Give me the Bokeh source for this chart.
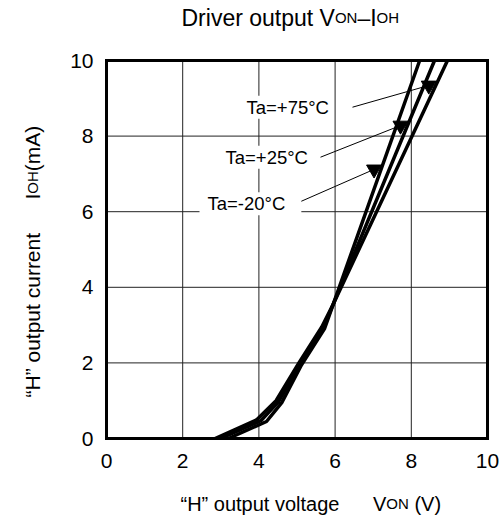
import math
import numpy as np
from bokeh.plotting import figure
from bokeh.models import Range1d, FixedTicker, Label, LinearAxis
from bokeh.embed import file_html
from bokeh.resources import INLINE

# ---------------- data ----------------
V_75 = [2.85, 3.95, 4.45, 5.05, 5.65, 5.95, 8.95]
I_75 = [0.0, 0.50, 1.00, 2.00, 2.95, 3.55, 10.0]
V_25 = [3.00, 4.05, 4.52, 5.08, 5.69, 5.95, 8.61]
I_25 = [0.0, 0.47, 0.98, 1.98, 2.93, 3.55, 10.0]
V_M20 = [3.20, 4.20, 4.60, 5.12, 5.72, 5.95, 8.22]
I_M20 = [0.0, 0.45, 0.95, 1.95, 2.90, 3.55, 10.0]
SERIES_LABELS = ["Ta=+75°C", "Ta=+25°C", "Ta=-20°C"]
ARROW_LEVELS = [9.34, 8.28, 7.12]   # current where each label's arrow meets its curve
X_TICKS = [0, 2, 4, 6, 8, 10]
Y_TICKS = [0, 2, 4, 6, 8, 10]
X_MIN, X_MAX = 0, 10
Y_MIN, Y_MAX = 0, 10

FONT = "Liberation Sans"

# ---------------- layout (canvas pixels) ----------------
CW, CH = 500, 518                   # canvas size
PL, PR, PT, PB = 106, 487, 60, 438  # chart area edges

def dx(px):   # canvas px -> data x
    return X_MIN + (px - PL) / (PR - PL) * (X_MAX - X_MIN)

def dy(py):   # canvas px -> data y
    return Y_MIN + (PB - py) / (PB - PT) * (Y_MAX - Y_MIN)

p = figure(width=CW, height=CH, min_border=0,
           x_range=Range1d(dx(0), dx(CW)), y_range=Range1d(dy(CH), dy(0)),
           output_backend="svg", toolbar_location=None, tools="")
p.background_fill_color = "white"
p.border_fill_color = "white"
p.outline_line_color = None
p.grid.visible = False

def style_axis(ax, ticks, loc, labels=True):
    ax.fixed_location = loc
    ax.bounds = (0, 10)
    ax.ticker = FixedTicker(ticks=ticks)
    ax.axis_line_width = 3
    ax.axis_line_color = "black"
    ax.axis_line_cap = "square"
    ax.major_tick_in = 0
    ax.major_tick_out = 0
    ax.minor_tick_in = 0
    ax.minor_tick_out = 0
    ax.major_label_text_font = FONT
    ax.major_label_text_font_size = "21px" if labels else "0px"
    ax.major_label_text_color = "black"

style_axis(p.xaxis[0], X_TICKS, Y_MIN)
style_axis(p.yaxis[0], Y_TICKS, X_MIN)
p.xaxis[0].major_label_standoff = 15
p.yaxis[0].major_label_standoff = 13
top = LinearAxis()
style_axis(top, [], Y_MAX, labels=False)
right = LinearAxis()
style_axis(right, [], X_MAX, labels=False)
p.add_layout(top, "above")
p.add_layout(right, "right")

# grid lines at the interior ticks
gx = [t for t in X_TICKS if X_MIN < t < X_MAX]
gy = [t for t in Y_TICKS if Y_MIN < t < Y_MAX]
p.segment(x0=gx, y0=[Y_MIN] * len(gx), x1=gx, y1=[Y_MAX] * len(gx),
          line_color="#222222", line_width=1)
p.segment(x0=[X_MIN] * len(gy), y0=gy, x1=[X_MAX] * len(gy), y1=gy,
          line_color="#222222", line_width=1)

# ---------------- curves ----------------
curves = [(V_75, I_75), (V_25, I_25), (V_M20, I_M20)]
for V, I in curves:
    p.line(V, I, line_color="black", line_width=3.5, line_join="round")

# ---------------- labels with arrows ----------------
label_pos = [(dx(246), dy(106.7), dx(352)),   # text start x, center y, arrow start x
             (dx(225), dy(156.7), dx(320)),
             (dx(199), dy(203.3), dx(295))]
paddings = [dict(left=0, right=0, top=1, bottom=1),
            dict(left=0, right=0, top=1, bottom=1),
            dict(left=8, right=16, top=1, bottom=1)]
tri_x, tri_y, x0s, y0s = [], [], [], []
for (V, I), lvl, (lx, ly, ax0), text, pad in zip(curves, ARROW_LEVELS, label_pos,
                                                SERIES_LABELS, paddings):
    tx = float(np.interp(lvl, I, V)) - dx(PL + 7)
    tri_x.append(tx)
    tri_y.append(lvl)
    x0s.append(ax0)
    y0s.append(ly)
    p.add_layout(Label(x=lx, y=ly, text=text, text_font=FONT,
                       text_font_size="18.5px", text_baseline="middle",
                       text_align="left", text_color="black",
                       background_fill_color="white", padding=pad))

p.segment(x0=x0s, y0=y0s, x1=tri_x, y1=tri_y, line_color="black", line_width=1)
p.scatter(tri_x, tri_y, marker="inverted_triangle", size=15,
          fill_color="black", line_color="black")

# ---------------- titles made of text runs (small-caps subscripts) ----------------
W = {"D": .722, "r": .333, "i": .222, "v": .5, "e": .556, " ": .278, "o": .556,
     "u": .556, "t": .278, "p": .556, "l": .222, "a": .556, "g": .556, "c": .5,
     "n": .556, "V": .667, "O": .778, "N": .722, "–": .556, "I": .278, "H": .722,
     "“": .333, "”": .333, "(": .333, ")": .333, "m": .833, "A": .667}

def tw(s, size):
    return sum(W[c] for c in s) * size

def runs(parts, x0, base, vertical=False):
    """Place text runs on one shared baseline; base = baseline position in px."""
    pos = 0.0
    for text, size in parts:
        lead = len(text) - len(text.lstrip(" "))
        pos += lead * W[" "] * size
        text = text.lstrip(" ")
        if vertical:
            lab = Label(x=dx(base - 8), y=dy(x0 - pos), angle=math.pi / 2)
        else:
            lab = Label(x=dx(x0 + pos), y=dy(base - 7))
        lab.text = text
        lab.text_font = FONT
        lab.text_font_size = f"{size}px"
        lab.text_baseline = "alphabetic"
        lab.text_align = "left"
        lab.text_color = "black"
        p.add_layout(lab)
        pos += tw(text, size)

# title
runs([("Driver output V", 23), ("ON", 15), ("–I", 23), ("OH", 15)], 181, 24)
# x axis title
runs([("“H” output voltage", 20)], 180, 510)
runs([("V", 20), ("ON", 15), (" (V)", 20)], 372.5, 510)
# y axis title (reads bottom to top; x0 is the starting y, base the baseline x)
runs([("“H” output current", 21)], 397, 40, vertical=True)
runs([("I", 21), ("OH", 15), ("(mA)", 21)], 199, 40, vertical=True)

open("out.html", "w").write(file_html(p, INLINE))
